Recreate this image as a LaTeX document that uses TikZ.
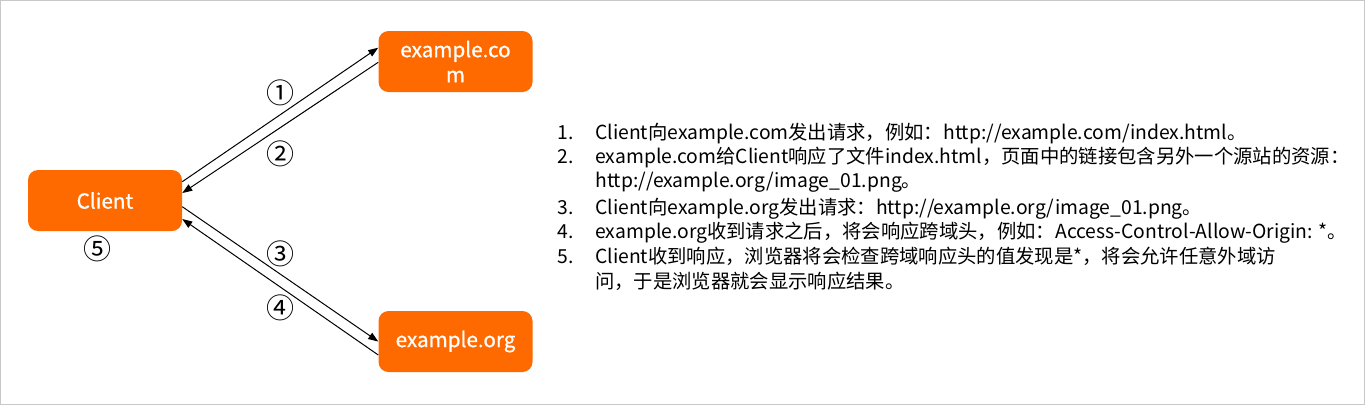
\documentclass[tikz,border=0pt]{standalone}
\usepackage{fontspec}
\setmainfont{Noto Sans CJK SC}
\newfontfamily\boxfont[FakeBold=0.8]{Noto Sans CJK SC}
\usetikzlibrary{arrows.meta}
\definecolor{aliorange}{HTML}{FF6A00}
\definecolor{framegray}{HTML}{C8C8C8}
\begin{document}
\begin{tikzpicture}[x=0.75pt,y=-0.75pt,
  box/.style={fill=aliorange, rounded corners=7.5pt, minimum width=115.5pt, minimum height=45.75pt, text=white, font=\boxfont\fontsize{15.5}{18.75}\selectfont, align=center, inner sep=0pt},
  conn/.style={draw=black, line width=0.75pt, -{Triangle[length=7.5pt,width=5.5pt]}},
  num/.style={font=\fontsize{21}{21}\selectfont, inner sep=0pt},
  item/.style={anchor=base west, inner sep=0pt, font=\fontsize{14.5}{18}\selectfont},
]
\useasboundingbox (0,0) rectangle (1365,405);
\draw[framegray, line width=0.75pt] (0.5,0.5) rectangle (1364.5,404.5);
\node[box] (client) at (105,200.5) {Client};
\node[box] (com) at (455.5,61.5) {example.co\\m};
\node[box] (org) at (455.5,341.5) {example.org};
\draw[conn] ([yshift=14.1pt]client.east) -- ([yshift=10.35pt]com.west);
\draw[conn] ([yshift=-0.6pt]com.west) -- ([yshift=5.6pt]client.east);
\draw[conn] ([yshift=-4.65pt]client.east) -- ([yshift=0pt]org.west);
\draw[conn] ([yshift=-10.1pt]org.west) -- ([yshift=-13.9pt]client.east);
\node[num] (n1) at (280,93) {①};
\node[num] (n2) at (280,154) {②};
\node[num] (n3) at (280,253.5) {③};
\node[num] (n4) at (280,307.5) {④};
\node[num] (n5) at (97,248.5) {⑤};
\node[item] (l1n) at (557,139) {1.};
\node[item] (l1) at (595,139) {Client向example.com发出请求，例如：http://example.com/index.html。};
\node[item] (l2n) at (557,163) {2.};
\node[item] (l2) at (595,163) {example.com给Client响应了文件index.html，页面中的链接包含另外一个源站的资源：};
\node[item] (l2b) at (595,187) {http://example.org/image\_01.png。};
\node[item] (l3n) at (557,214) {3.};
\node[item] (l3) at (595,214) {Client向example.org发出请求：http://example.org/image\_01.png。};
\node[item] (l4n) at (557,238) {4.};
\node[item] (l4) at (595,238) {example.org收到请求之后，将会响应跨域头，例如：Access-Control-Allow-Origin: *。};
\node[item] (l5n) at (557,263) {5.};
\node[item] (l5) at (595,263) {Client收到响应，浏览器将会检查跨域响应头的值发现是*，将会允许任意外域访};
\node[item] (l5b) at (595,288) {问，于是浏览器就会显示响应结果。};
\end{tikzpicture}
\end{document}
